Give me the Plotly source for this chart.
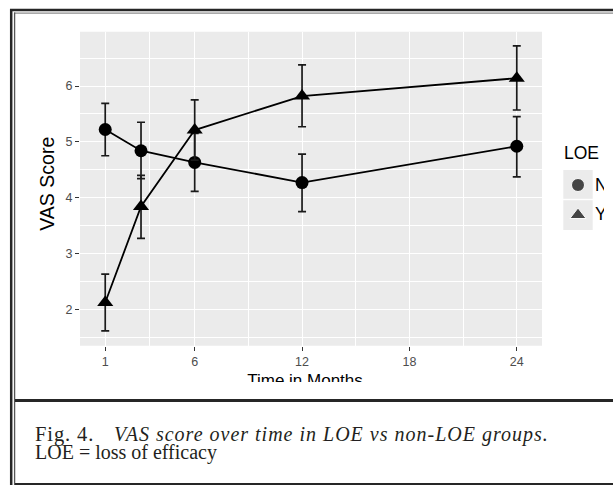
import plotly.graph_objects as go

# ---------------- data ----------------
months = [1, 3, 6, 12, 24]
groups = ["N", "Y"]
vas_n = [5.22, 4.84, 4.63, 4.27, 4.92]
vas_n_upper = [5.69, 5.35, 5.15, 4.78, 5.45]
vas_n_lower = [4.75, 4.34, 4.11, 3.75, 4.37]
vas_y = [2.12, 3.84, 5.21, 5.82, 6.14]
vas_y_upper = [2.63, 4.40, 5.75, 6.38, 6.72]
vas_y_lower = [1.61, 3.27, 4.67, 5.27, 5.57]
x_tick_vals = [1, 6, 12, 18, 24]
y_tick_vals = [2, 3, 4, 5, 6]
x_minor_vals = [3.5, 9, 15, 21]
y_minor_vals = [1.5, 2.5, 3.5, 4.5, 5.5, 6.5]
x_title = "Time in Months"
y_title = "VAS Score"
legend_title = "LOE"
caption_label = "Fig. 4."
caption_title = "VAS score over time in LOE vs non-LOE groups."
caption_note = "LOE = loss of efficacy"

W, H = 613, 485
def px(x):
    return x / W
def py(y):
    return 1 - y / H

SANS = "Liberation Sans, Arial, sans-serif"
SERIF = "Liberation Serif, Times New Roman, serif"

fig = go.Figure()

def add_series(y, up, lo, symbol, size, name):
    fig.add_trace(go.Scatter(
        x=months, y=y, mode="lines+markers", name=name,
        line=dict(color="black", width=1.8),
        marker=dict(symbol=symbol, size=size, color="black"),
        error_y=dict(type="data", symmetric=False,
                     array=[u - v for u, v in zip(up, y)],
                     arrayminus=[v - l for v, l in zip(y, lo)],
                     color="#1a1a1a", thickness=1.7, width=4),
        showlegend=False, xaxis="x", yaxis="y", cliponaxis=False,
    ))

add_series(vas_n, vas_n_upper, vas_n_lower, "circle", 13, groups[0])
add_series(vas_y, vas_y_upper, vas_y_lower, "triangle-up", 14, groups[1])

# overlay pixel-space subplot (for clipped texts and legend keys)
CLIP_R, CLIP_B = 604, 382
fig.add_trace(go.Scatter(
    x=[578, 578], y=[185, 215], mode="markers",
    marker=dict(symbol=["circle", "triangle-up"], size=[13, 14], color="black"),
    xaxis="x2", yaxis="y2", showlegend=False, hoverinfo="skip",
))
fig.add_trace(go.Scatter(
    x=[595, 595], y=[186.5, 215.5], mode="text", text=groups,
    textposition="middle right",
    textfont=dict(family=SANS, size=17.5, color="black"),
    xaxis="x2", yaxis="y2", showlegend=False, hoverinfo="skip", cliponaxis=True,
))
fig.add_trace(go.Scatter(
    x=[305], y=[381.5], mode="text", text=[x_title],
    textposition="middle center",
    textfont=dict(family=SANS, size=17, color="black"),
    xaxis="x2", yaxis="y2", showlegend=False, hoverinfo="skip", cliponaxis=True,
))

shapes = [
    # panel background
    dict(type="rect", xref="x domain", yref="y domain", x0=0, x1=1, y0=0, y1=1,
         fillcolor="#ebebeb", line=dict(width=0), layer="below"),
    # legend keys
    dict(type="rect", xref="paper", yref="paper", x0=px(563.3), x1=px(592.7),
         y0=py(170), y1=py(198.8), fillcolor="#ebebeb", line=dict(width=0), layer="below"),
    dict(type="rect", xref="paper", yref="paper", x0=px(563.3), x1=px(592.7),
         y0=py(200.2), y1=py(230), fillcolor="#ebebeb", line=dict(width=0), layer="below"),
    # frame
    dict(type="line", xref="paper", yref="paper", x0=px(10), x1=px(613), y0=py(10), y1=py(10),
         line=dict(color="#262626", width=2.5)),
    dict(type="line", xref="paper", yref="paper", x0=px(14), x1=px(613), y0=py(13.2), y1=py(13.2),
         line=dict(color="#8c8c8c", width=1.3)),
    dict(type="line", xref="paper", yref="paper", x0=px(11.2), x1=px(11.2), y0=py(9), y1=py(485),
         line=dict(color="#262626", width=2.5)),
    dict(type="line", xref="paper", yref="paper", x0=px(14.6), x1=px(14.6), y0=py(12.5), y1=py(485),
         line=dict(color="#555555", width=1.3)),
    dict(type="line", xref="paper", yref="paper", x0=px(15), x1=px(613), y0=py(400.5), y1=py(400.5),
         line=dict(color="#262626", width=3)),
    dict(type="line", xref="paper", yref="paper", x0=px(15), x1=px(613), y0=py(484), y1=py(484),
         line=dict(color="#262626", width=2)),
]

annotations = [
    dict(text=y_title, xref="paper", yref="paper", x=px(46.7), y=py(184),
         xanchor="center", yanchor="middle", textangle=-90, showarrow=False,
         font=dict(family=SANS, size=19.5, color="black")),
    dict(text=legend_title, xref="paper", yref="paper", x=px(562), y=py(153),
         xanchor="left", yanchor="middle", showarrow=False,
         font=dict(family=SANS, size=17.5, color="black")),
    dict(text='<span style="letter-spacing:0.9px">' + caption_label + "</span>",
         xref="paper", yref="paper", x=px(32.5), y=py(434),
         xanchor="left", yanchor="middle", showarrow=False,
         font=dict(family=SERIF, size=20.5, color="#231f20")),
    dict(text='<i><span style="letter-spacing:1.0px">' + caption_title + "</span></i>",
         xref="paper", yref="paper", x=px(112), y=py(434),
         xanchor="left", yanchor="middle", showarrow=False,
         font=dict(family=SERIF, size=20, color="#231f20")),
    dict(text=caption_note, xref="paper", yref="paper", x=px(32.5), y=py(452.5),
         xanchor="left", yanchor="middle", showarrow=False,
         font=dict(family=SERIF, size=20, color="#231f20")),
]

tickfont = dict(family=SANS, size=12.5, color="#4d4d4d")

fig.update_layout(
    width=W, height=H, autosize=False,
    margin=dict(l=0, r=0, t=0, b=0, pad=0),
    paper_bgcolor="white", plot_bgcolor="rgba(0,0,0,0)",
    showlegend=False,
    shapes=shapes, annotations=annotations,
    xaxis=dict(domain=[px(80), px(542)], range=[-0.41, 25.41],
               tickvals=x_tick_vals, ticktext=[str(v) for v in x_tick_vals],
               showgrid=True, gridcolor="white", gridwidth=1.4, zeroline=False,
               ticks="outside", ticklen=4, tickwidth=1.2, tickcolor="#333333",
               tickfont=tickfont, showline=False, anchor="y",
               minor=dict(tickvals=x_minor_vals, showgrid=True, gridcolor="white",
                          gridwidth=0.7, ticks="")),
    yaxis=dict(domain=[py(345.7), py(31.7)], range=[1.346, 6.973],
               tickvals=y_tick_vals, ticktext=[str(v) for v in y_tick_vals],
               showgrid=True, gridcolor="white", gridwidth=1.4, zeroline=False,
               ticks="outside", ticklen=4, tickwidth=1.2, tickcolor="#333333",
               tickfont=tickfont, showline=False, anchor="x",
               minor=dict(tickvals=y_minor_vals, showgrid=True, gridcolor="white",
                          gridwidth=0.7, ticks="")),
    xaxis2=dict(domain=[0, px(CLIP_R)], range=[0, CLIP_R], visible=False,
                showgrid=False, zeroline=False, anchor="y2", fixedrange=True),
    yaxis2=dict(domain=[py(CLIP_B), 1], range=[CLIP_B, 0], visible=False,
                showgrid=False, zeroline=False, anchor="x2", fixedrange=True),
)

fig.write_html("out.html", config={"displayModeBar": False},
               post_script="document.body.style.margin='0';")
